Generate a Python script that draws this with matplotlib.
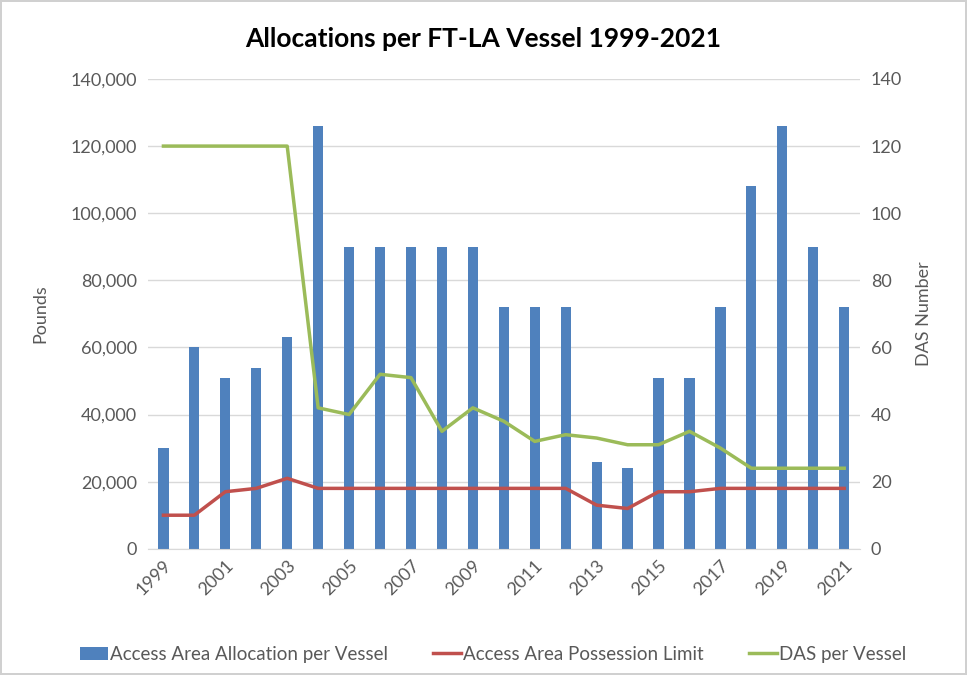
import matplotlib
matplotlib.use("Agg")
import matplotlib.pyplot as plt
import numpy as np
from matplotlib.ticker import FuncFormatter, MultipleLocator

years = list(range(1999, 2022))
allocation = [30000, 60000, 51000, 54000, 63000, 126000, 90000, 90000, 90000, 90000, 90000,
              72000, 72000, 72000, 26000, 24000, 51000, 51000, 72000, 108000, 126000, 90000, 72000]
possession = [10000, 10000, 17000, 18000, 21000, 18000, 18000, 18000, 18000, 18000, 18000,
              18000, 18000, 18000, 13000, 12000, 17000, 17000, 18000, 18000, 18000, 18000, 18000]
das = [120, 120, 120, 120, 120, 42, 40, 52, 51, 35, 42, 38, 32, 34, 33, 31, 31, 35, 30, 24, 24, 24, 24]

plt.rcParams['font.family'] = ['Lato', 'DejaVu Sans']
gray = '#595959'

fig = plt.figure(figsize=(9.67, 6.75), dpi=100)
fig.patch.set_edgecolor('#d0d0d0')
fig.patch.set_linewidth(1.5)
ax = fig.add_axes([0.153, 0.187, 0.736, 0.696])
ax2 = ax.twinx()

x = np.arange(len(years))
b = ax.bar(x, allocation, width=0.33, color='#4f81bd', zorder=2, label='Access Area Allocation per Vessel')
l1, = ax.plot(x, possession, color='#c0504d', lw=2.5, zorder=3, label='Access Area Possession Limit')
l2, = ax2.plot(x, das, color='#9bbb59', lw=2.5, zorder=3, label='DAS per Vessel')

ax.set_xlim(-0.5, len(years) - 0.5)
ax.set_ylim(0, 140000)
ax2.set_ylim(0, 140)
ax.yaxis.set_major_locator(MultipleLocator(20000))
ax2.yaxis.set_major_locator(MultipleLocator(20))
ax.yaxis.set_major_formatter(FuncFormatter(lambda v, p: f'{int(v):,}'))
ax.grid(axis='y', color='#d9d9d9', lw=1, zorder=0)
ax.set_axisbelow(True)

for a in (ax, ax2):
    for s in ('top', 'left', 'right'):
        a.spines[s].set_visible(False)
    a.spines['bottom'].set_color('#d9d9d9')
    a.tick_params(axis='y', length=0, labelsize=13, labelcolor=gray, pad=8)
ax2.spines['bottom'].set_visible(False)

ax.set_xticks(x[::2])
ax.set_xticklabels([str(y) for y in years[::2]], rotation=45, ha='right', rotation_mode='anchor')
ax.tick_params(axis='x', length=0, labelsize=13, labelcolor=gray, pad=6)

ax.set_ylabel('Pounds', fontsize=13, color=gray, labelpad=16)
ax2.set_ylabel('DAS Number', fontsize=13, color=gray, labelpad=10)

fig.suptitle('Allocations per FT-LA Vessel 1999-2021', fontsize=19, fontweight='bold', y=0.96)

fig.legend(handles=[b, l1, l2], loc='lower center', bbox_to_anchor=(0.51, -0.007), ncol=3,
           frameon=False, fontsize=13.5, labelcolor=gray, handlelength=1.5, handletextpad=0.1,
           columnspacing=2.4)

fig.savefig('out.png', dpi=100, edgecolor=fig.get_edgecolor())
